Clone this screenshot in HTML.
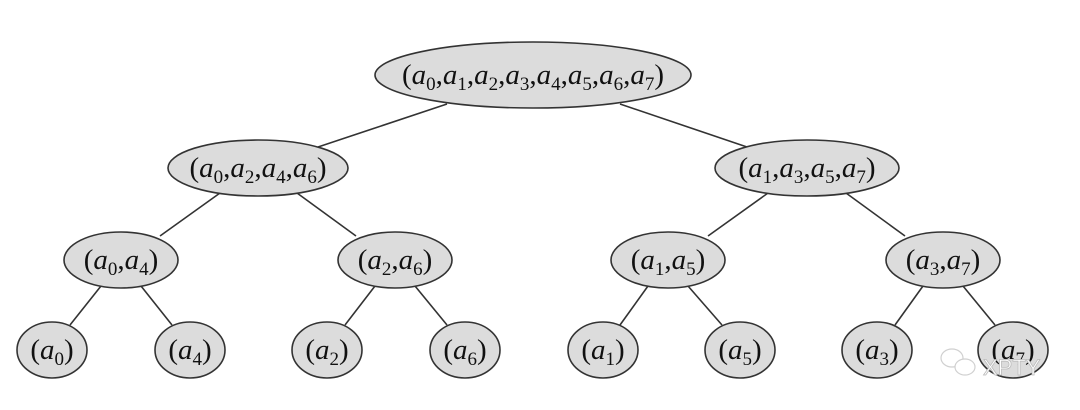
<!DOCTYPE html>
<html><head><style>body{margin:0;background:#fff}svg{display:block}
text{font-family:"Liberation Serif",serif;font-size:29px;fill:#111}
.i{font-style:italic}</style></head><body>
<svg width="1080" height="410" viewBox="0 0 1080 410">
<g stroke="#333" stroke-width="1.6">
<line x1="447" y1="104" x2="318" y2="147"/><line x1="620" y1="104" x2="747" y2="147"/>
<line x1="220" y1="193" x2="160" y2="236"/><line x1="297" y1="193" x2="356" y2="236"/>
<line x1="768" y1="193" x2="708" y2="236"/><line x1="846" y1="193" x2="905" y2="236"/>
<line x1="101" y1="286" x2="70" y2="325"/><line x1="141" y1="286" x2="172" y2="325"/>
<line x1="375" y1="286" x2="345" y2="325"/><line x1="415" y1="286" x2="447" y2="325"/>
<line x1="648" y1="286" x2="620" y2="325"/><line x1="688" y1="286" x2="722" y2="325"/>
<line x1="923" y1="286" x2="895" y2="325"/><line x1="963" y1="286" x2="995" y2="325"/>
</g>
<g fill="#dcdcdc" stroke="#333" stroke-width="1.6">
<ellipse cx="533" cy="75" rx="158" ry="33"/>
<ellipse cx="258" cy="168" rx="90" ry="28"/><ellipse cx="807" cy="168" rx="92" ry="28"/>
<ellipse cx="121" cy="260" rx="57" ry="28"/><ellipse cx="395" cy="260" rx="57" ry="28"/>
<ellipse cx="668" cy="260" rx="57" ry="28"/><ellipse cx="943" cy="260" rx="57" ry="28"/>
<ellipse cx="52" cy="350" rx="35" ry="28"/><ellipse cx="190" cy="350" rx="35" ry="28"/>
<ellipse cx="327" cy="350" rx="35" ry="28"/><ellipse cx="465" cy="350" rx="35" ry="28"/>
<ellipse cx="603" cy="350" rx="35" ry="28"/><ellipse cx="740" cy="350" rx="35" ry="28"/>
<ellipse cx="877" cy="350" rx="35" ry="28"/><ellipse cx="1013" cy="350" rx="35" ry="28"/>
</g>
<g text-anchor="middle">
<text x="533" y="84">(<tspan class="i">a</tspan><tspan font-size="19" dy="6">0</tspan><tspan dy="-6">,</tspan><tspan class="i">a</tspan><tspan font-size="19" dy="6">1</tspan><tspan dy="-6">,</tspan><tspan class="i">a</tspan><tspan font-size="19" dy="6">2</tspan><tspan dy="-6">,</tspan><tspan class="i">a</tspan><tspan font-size="19" dy="6">3</tspan><tspan dy="-6">,</tspan><tspan class="i">a</tspan><tspan font-size="19" dy="6">4</tspan><tspan dy="-6">,</tspan><tspan class="i">a</tspan><tspan font-size="19" dy="6">5</tspan><tspan dy="-6">,</tspan><tspan class="i">a</tspan><tspan font-size="19" dy="6">6</tspan><tspan dy="-6">,</tspan><tspan class="i">a</tspan><tspan font-size="19" dy="6">7</tspan><tspan dy="-6">)</tspan></text>
<text x="258" y="177">(<tspan class="i">a</tspan><tspan font-size="19" dy="6">0</tspan><tspan dy="-6">,</tspan><tspan class="i">a</tspan><tspan font-size="19" dy="6">2</tspan><tspan dy="-6">,</tspan><tspan class="i">a</tspan><tspan font-size="19" dy="6">4</tspan><tspan dy="-6">,</tspan><tspan class="i">a</tspan><tspan font-size="19" dy="6">6</tspan><tspan dy="-6">)</tspan></text>
<text x="807" y="177">(<tspan class="i">a</tspan><tspan font-size="19" dy="6">1</tspan><tspan dy="-6">,</tspan><tspan class="i">a</tspan><tspan font-size="19" dy="6">3</tspan><tspan dy="-6">,</tspan><tspan class="i">a</tspan><tspan font-size="19" dy="6">5</tspan><tspan dy="-6">,</tspan><tspan class="i">a</tspan><tspan font-size="19" dy="6">7</tspan><tspan dy="-6">)</tspan></text>
<text x="121" y="269">(<tspan class="i">a</tspan><tspan font-size="19" dy="6">0</tspan><tspan dy="-6">,</tspan><tspan class="i">a</tspan><tspan font-size="19" dy="6">4</tspan><tspan dy="-6">)</tspan></text>
<text x="395" y="269">(<tspan class="i">a</tspan><tspan font-size="19" dy="6">2</tspan><tspan dy="-6">,</tspan><tspan class="i">a</tspan><tspan font-size="19" dy="6">6</tspan><tspan dy="-6">)</tspan></text>
<text x="668" y="269">(<tspan class="i">a</tspan><tspan font-size="19" dy="6">1</tspan><tspan dy="-6">,</tspan><tspan class="i">a</tspan><tspan font-size="19" dy="6">5</tspan><tspan dy="-6">)</tspan></text>
<text x="943" y="269">(<tspan class="i">a</tspan><tspan font-size="19" dy="6">3</tspan><tspan dy="-6">,</tspan><tspan class="i">a</tspan><tspan font-size="19" dy="6">7</tspan><tspan dy="-6">)</tspan></text>
<text x="52" y="359">(<tspan class="i">a</tspan><tspan font-size="19" dy="6">0</tspan><tspan dy="-6">)</tspan></text>
<text x="190" y="359">(<tspan class="i">a</tspan><tspan font-size="19" dy="6">4</tspan><tspan dy="-6">)</tspan></text>
<text x="327" y="359">(<tspan class="i">a</tspan><tspan font-size="19" dy="6">2</tspan><tspan dy="-6">)</tspan></text>
<text x="465" y="359">(<tspan class="i">a</tspan><tspan font-size="19" dy="6">6</tspan><tspan dy="-6">)</tspan></text>
<text x="603" y="359">(<tspan class="i">a</tspan><tspan font-size="19" dy="6">1</tspan><tspan dy="-6">)</tspan></text>
<text x="740" y="359">(<tspan class="i">a</tspan><tspan font-size="19" dy="6">5</tspan><tspan dy="-6">)</tspan></text>
<text x="877" y="359">(<tspan class="i">a</tspan><tspan font-size="19" dy="6">3</tspan><tspan dy="-6">)</tspan></text>
<text x="1013" y="359">(<tspan class="i">a</tspan><tspan font-size="19" dy="6">7</tspan><tspan dy="-6">)</tspan></text>
</g>
<g fill="#fff" stroke="#ccc" stroke-width="1.2" opacity="0.9">
<ellipse cx="952" cy="358" rx="11" ry="9"/><ellipse cx="965" cy="367" rx="10" ry="8"/>
</g>
<text x="983" y="375" style="font-family:'Liberation Sans',sans-serif;font-size:22px;fill:#fff;stroke:#bbb;stroke-width:0.8">XPTY</text>
</svg>
</body></html>
